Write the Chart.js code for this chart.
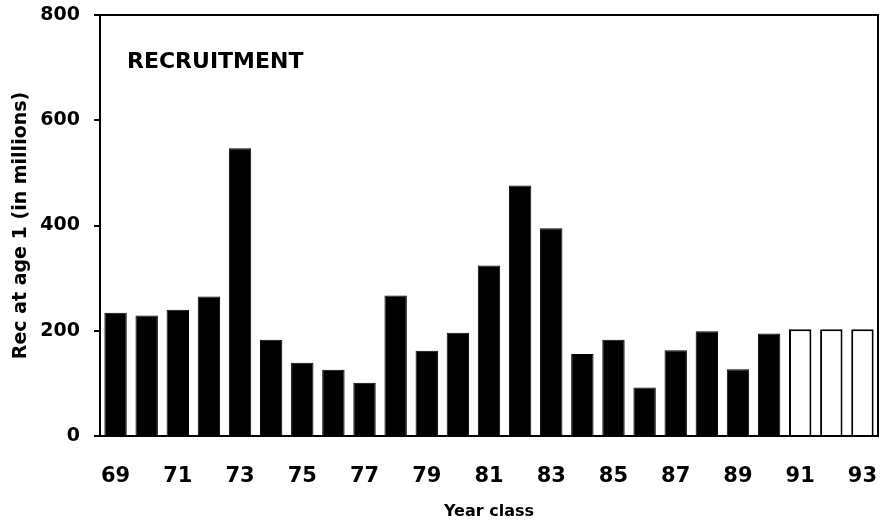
<!DOCTYPE html>
<html lang="en">
<head>
    <meta charset="UTF-8">
    <title>Recruitment</title>
    <script src="https://cdn.jsdelivr.net/npm/chart.js"></script>
    <style>
        body {
            margin: 0;
            padding: 0;
            background-color: #ffffff;
        }
        #chart-container {
            width: 881px;
            height: 526px;
        }
    </style>
</head>
<body>
    <div id="chart-container">
        <canvas id="myChart"></canvas>
    </div>

    <script>
        // Year classes (69 .. 93)
        const years = ['69', '70', '71', '72', '73', '74', '75', '76', '77', '78', '79', '80', '81',
                       '82', '83', '84', '85', '86', '87', '88', '89', '90', '91', '92', '93'];
        // Recruitment at age 1 (millions), estimated year classes
        const recruitment = [234, 229, 240, 265, 547, 183, 139, 126, 101, 267, 162, 196, 324,
                             476, 395, 156, 183, 92, 163, 199, 127, 195, null, null, null];
        // Assumed (projected) year classes, drawn as open bars
        const projected = [null, null, null, null, null, null, null, null, null, null, null, null, null,
                           null, null, null, null, null, null, null, null, null, 203, 203, 203];
        const yTicks = [0, 200, 400, 600, 800];

        const tickFont = { family: 'DejaVu Sans', weight: 'bold', size: 19 };

        // Frame round the plot area and the panel label
        const framePlugin = {
            id: 'frame',
            afterDraw(chart) {
                const { ctx, chartArea } = chart;
                ctx.save();
                ctx.strokeStyle = '#000';
                ctx.lineWidth = 2;
                ctx.strokeRect(chartArea.left, chartArea.top, chartArea.right - chartArea.left, chartArea.bottom - chartArea.top);
                ctx.fillStyle = '#000';
                ctx.font = 'bold 22px "DejaVu Sans"';
                ctx.textBaseline = 'alphabetic';
                ctx.fillText('RECRUITMENT', chartArea.left + 27, chartArea.top + 53);
                ctx.restore();
            }
        };

        function initChart() {
            const ctx = document.getElementById('myChart').getContext('2d');
            new Chart(ctx, {
                type: 'bar',
                data: {
                    labels: years,
                    datasets: [
                        {
                            label: 'Recruitment',
                            data: recruitment,
                            backgroundColor: '#000',
                            borderColor: '#000',
                            borderWidth: 1,
                            barPercentage: 0.72,
                            categoryPercentage: 1
                        },
                        {
                            label: 'Projected',
                            data: projected,
                            backgroundColor: '#fff',
                            borderColor: '#000',
                            borderWidth: 2,
                            barPercentage: 0.72,
                            categoryPercentage: 1
                        }
                    ]
                },
                plugins: [framePlugin],
                options: {
                    responsive: true,
                    maintainAspectRatio: false,
                    animation: false,
                    layout: {
                        padding: { top: 15, right: 3, left: 0, bottom: 0 }
                    },
                    scales: {
                        x: {
                            stacked: true,
                            grid: { display: false },
                            border: { display: true, color: '#000', width: 2 },
                            ticks: {
                                autoSkip: false,
                                maxRotation: 0,
                                color: '#000',
                                padding: 20,
                                font: { family: 'DejaVu Sans', weight: 'bold', size: 21 },
                                callback: (v, i) => (i % 2 === 0 ? years[i] : '')
                            },
                            title: {
                                display: true,
                                text: 'Year class',
                                color: '#000',
                                font: { family: 'DejaVu Sans', weight: 'bold', size: 16 },
                                padding: { top: 0, bottom: 5 }
                            },
                            afterFit: s => { s.height = 90; s.paddingLeft = 0; s.paddingRight = 0; }
                        },
                        y: {
                            stacked: true,
                            min: 0,
                            max: 800,
                            afterBuildTicks: s => { s.ticks = yTicks.map(v => ({ value: v })); },
                            grid: {
                                drawOnChartArea: false,
                                drawTicks: true,
                                tickLength: 6,
                                color: '#000',
                                lineWidth: 2
                            },
                            border: { display: true, color: '#000', width: 2 },
                            ticks: {
                                color: '#000',
                                padding: 14,
                                font: tickFont
                            },
                            title: {
                                display: true,
                                text: 'Rec at age 1 (in millions)',
                                color: '#000',
                                font: { family: 'DejaVu Sans', weight: 'bold', size: 19 },
                                padding: { top: 10, bottom: 0 }
                            },
                            afterFit: s => { s.width = 100; s.paddingTop = 0; s.paddingBottom = 0; }
                        }
                    },
                    plugins: {
                        legend: { display: false },
                        tooltip: { enabled: false }
                    }
                }
            });
        }

        window.onload = initChart;
    </script>
</body>
</html>
